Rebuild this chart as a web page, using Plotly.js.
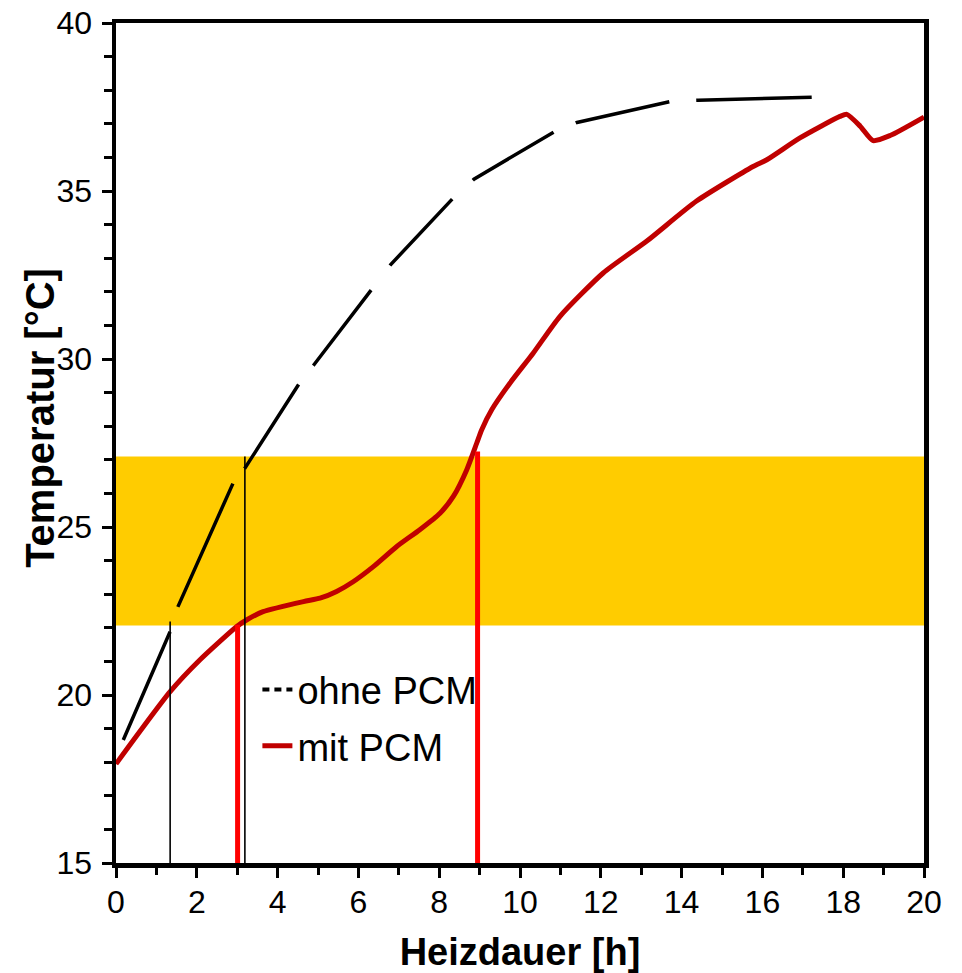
<!DOCTYPE html>
<html>
<head>
<meta charset="utf-8">
<script src="https://cdn.plot.ly/plotly-3.0.1.min.js"></script>
<style>
  html, body { margin: 0; padding: 0; background: #ffffff; }
  #chart { width: 962px; height: 973px; }
</style>
</head>
<body>
<div id="chart"></div>
<script>
// ---- data ----
const ohneX = [0.18, 1.34, 1.53, 2.90, 3.19, 4.53, 4.90, 6.33, 6.80, 8.34, 8.86, 10.87, 11.41, 13.74, 14.41, 17.22];
const ohneY = [18.66, 21.89, 22.62, 26.31, 26.75, 29.26, 29.83, 32.06, 32.81, 34.78, 35.35, 36.78, 37.04, 37.67, 37.70, 37.79];

const mitX = [0.0, 1.34, 2.08, 2.99, 3.24, 3.64, 4.64, 5.05, 5.46, 5.87, 6.37, 6.95, 7.52, 8.02, 8.35, 8.68, 8.93, 9.05, 9.30, 9.75, 10.33, 10.99, 12.06, 13.14, 14.37, 15.77, 16.11, 16.93, 17.92, 18.09, 18.42, 18.74, 19.16, 20.0];
const mitY = [17.95, 20.10, 21.05, 22.04, 22.24, 22.48, 22.78, 22.88, 23.08, 23.37, 23.82, 24.42, 24.92, 25.41, 25.91, 26.70, 27.50, 27.89, 28.49, 29.28, 30.18, 31.27, 32.56, 33.51, 34.70, 35.73, 35.93, 36.58, 37.22, 37.28, 36.93, 36.50, 36.65, 37.2];

// marker lines (time at which each curve reaches the band limits)
const ohneMarkX = [1.34, 3.19];
const ohneMarkTop = [22.19, 27.1];
const mitMarkX = [3.01, 8.95];
const mitMarkTop = [22.09, 27.25];

// PCM melting range
const bandLow = 22.07;
const bandHigh = 27.1;

const yMin = 15, yMax = 40, xMin = 0, xMax = 20;
const xTickVals = [0, 2, 4, 6, 8, 10, 12, 14, 16, 18, 20];
const yTickVals = [15, 20, 25, 30, 35, 40];

const seriesNames = ['ohne PCM', 'mit PCM'];
const xTitle = 'Heizdauer [h]';
const yTitle = 'Temperatur [°C]';

// dash pattern of the "ohne PCM" curve as drawn in the reference (px)
const ohneDash = '118px,26px,135px,19px,100px,24px,95px,31px,91px,28px,94px,24px,96px,27px,200px,20px';

// ---- traces ----
const traces = [];
traces.push({
  x: ohneX, y: ohneY, type: 'scatter', mode: 'lines', name: seriesNames[0],
  line: { color: '#000000', width: 3.5, dash: ohneDash }, showlegend: false, hoverinfo: 'skip'
});
traces.push({
  x: mitX, y: mitY, type: 'scatter', mode: 'lines', name: seriesNames[1],
  line: { color: '#C00000', width: 5, shape: 'spline', smoothing: 0.6 }, showlegend: false, hoverinfo: 'skip'
});
ohneMarkX.forEach((v, i) => {
  traces.push({ x: [v, v], y: [yMin, ohneMarkTop[i]], type: 'scatter', mode: 'lines',
    line: { color: '#000000', width: 1.6 }, showlegend: false, hoverinfo: 'skip' });
});
mitMarkX.forEach((v, i) => {
  traces.push({ x: [v, v], y: [yMin, mitMarkTop[i]], type: 'scatter', mode: 'lines',
    line: { color: '#FF0000', width: 5 }, showlegend: false, hoverinfo: 'skip' });
});
// legend entries
traces.push({ x: [null], y: [null], type: 'scatter', mode: 'lines', name: seriesNames[0],
  line: { color: '#000000', width: 4, dash: '7px,5px' }, legendgroup: 'a' });
traces.push({ x: [null], y: [null], type: 'scatter', mode: 'lines', name: seriesNames[1],
  line: { color: '#C00000', width: 5 }, legendgroup: 'b' });

const font = 'Arial, "Liberation Sans", Helvetica, sans-serif';

const layout = {
  width: 962, height: 973,
  margin: { l: 116, r: 38, t: 23, b: 110 },
  paper_bgcolor: '#ffffff', plot_bgcolor: '#ffffff',
  font: { family: font, color: '#000000', size: 32 },
  showlegend: true,
  legend: {
    x: 0.175, y: 0.173, xanchor: 'left', yanchor: 'middle',
    bgcolor: 'rgba(0,0,0,0)', borderwidth: 0,
    font: { family: font, size: 38, color: '#000000' },
    tracegroupgap: 4
  },
  xaxis: {
    range: [xMin, xMax], tickvals: xTickVals, ticks: 'outside', ticklen: 10, tickwidth: 3,
    tickcolor: '#000', showline: true, linewidth: 4.5, linecolor: '#000', mirror: true,
    showgrid: false, zeroline: false, ticklabelstandoff: -3,
    tickfont: { family: font, size: 32, color: '#000' },
    minor: { dtick: 1, ticks: 'outside', ticklen: 7, tickwidth: 3, tickcolor: '#000', showgrid: false },
    title: { text: xTitle, font: { family: font, size: 38, color: '#000', weight: 'bold' }, standoff: 24 }
  },
  yaxis: {
    range: [yMin, yMax], tickvals: yTickVals, ticks: 'outside', ticklen: 10, tickwidth: 3,
    tickcolor: '#000', showline: true, linewidth: 4.5, linecolor: '#000', mirror: true,
    showgrid: false, zeroline: false, ticklabelstandoff: 3,
    tickfont: { family: font, size: 32, color: '#000' },
    minor: { dtick: 1, ticks: 'outside', ticklen: 8, tickwidth: 3, tickcolor: '#000', showgrid: false }
  },
  shapes: [{
    type: 'rect', xref: 'paper', yref: 'y', x0: 0, x1: 1, y0: bandLow, y1: bandHigh,
    fillcolor: '#FFCC00', line: { width: 0 }, layer: 'below'
  }],
  annotations: [{
    text: '<b>' + yTitle + '</b>', xref: 'paper', yref: 'paper', x: -0.094, y: 0.53,
    xanchor: 'center', yanchor: 'middle', textangle: -90, showarrow: false,
    font: { family: font, size: 40, color: '#000' }
  }]
};

Plotly.newPlot('chart', traces, layout, { displayModeBar: false, staticPlot: true });
</script>
</body>
</html>
